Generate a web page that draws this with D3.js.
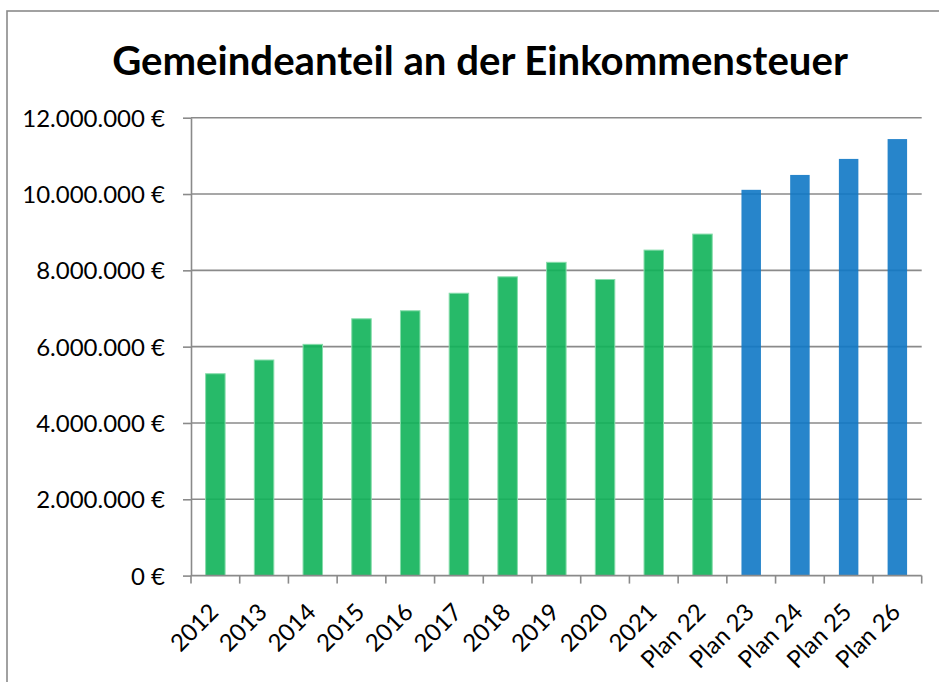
<!DOCTYPE html>
<html lang="de">
<head>
    <meta charset="UTF-8">
    <title>Gemeindeanteil an der Einkommensteuer</title>
    <script src="https://d3js.org/d3.v7.min.js"></script>
    <style>
        body { margin: 0; background: #fff; }
        svg { display: block; font-family: Lato, "Open Sans", sans-serif; }
        .grid line { stroke: #8a8a8a; stroke-width: 1.6px; }
        .axis path, .axis line { stroke: #8a8a8a; stroke-width: 1.6px; }
        .axis text { fill: #000; font-size: 24px; font-family: Lato, "Open Sans", sans-serif; }
    </style>
</head>
<body>
<svg width="939" height="682"></svg>
<script>
    const categories = ["2012", "2013", "2014", "2015", "2016", "2017", "2018", "2019", "2020", "2021",
        "Plan 22", "Plan 23", "Plan 24", "Plan 25", "Plan 26"];
    const values = [5290000, 5650000, 6060000, 6730000, 6940000, 7400000, 7830000, 8210000, 7760000, 8530000,
        8950000, 10110000, 10500000, 10920000, 11440000];
    const yTicks = [0, 2000000, 4000000, 6000000, 8000000, 10000000, 12000000];
    const planFrom = "Plan 23";

    const svg = d3.select("svg");
    const plotLeft = 191, plotRight = 921.7, plotTop = 117.7, plotBottom = 575.6;

    const de = d3.formatLocale({decimal: ",", thousands: ".", grouping: [3], currency: ["", " €"]});
    const fmt = de.format("$,.0f");

    // chart frame (right and bottom edges are outside the picture)
    svg.append("rect")
        .attr("x", 7).attr("y", 11)
        .attr("width", 960).attr("height", 700)
        .attr("fill", "none").attr("stroke", "#8a8a8a").attr("stroke-width", 1.6);

    const title = svg.append("text")
        .attr("x", 480).attr("y", 75)
        .attr("text-anchor", "middle")
        .style("font-weight", "bold")
        .style("font-size", "36px")
        .text("Gemeindeanteil an der Einkommensteuer");
    // scale title to the width used in the original
    const tw = title.node().getComputedTextLength();
    title.style("font-size", (36 * 736 / tw) + "px");

    const x = d3.scaleBand().domain(categories).range([plotLeft, plotRight]).paddingInner(0.6).paddingOuter(0.3);
    const y = d3.scaleLinear().domain([0, 12000000]).range([plotBottom, plotTop]);

    svg.append("g").attr("class", "grid")
        .selectAll("line").data(yTicks.slice(1)).join("line")
        .attr("x1", plotLeft).attr("x2", plotRight)
        .attr("y1", d => y(d)).attr("y2", d => y(d));

    // bars are slightly see-through, so the gridlines show as darker stripes
    const planIdx = categories.indexOf(planFrom);
    svg.append("g")
        .selectAll("rect").data(categories).join("rect")
        .attr("x", d => x(d))
        .attr("width", x.bandwidth())
        .attr("y", (d, i) => y(values[i]))
        .attr("height", (d, i) => y(0) - y(values[i]))
        .attr("fill", (d, i) => i >= planIdx ? "#1078c5" : "#10b359")
        .attr("fill-opacity", 0.9)
        .attr("stroke", (d, i) => i >= planIdx ? "none" : "#86dcaa")
        .attr("stroke-width", 1);

    const yAxis = svg.append("g").attr("class", "axis")
        .attr("transform", `translate(${plotLeft},0)`)
        .call(d3.axisLeft(y).tickValues(yTicks).tickFormat(fmt).tickSize(8).tickSizeOuter(0).tickPadding(18));
    yAxis.selectAll("text").attr("dy", "0.35em");

    // x axis: baseline with ticks on the category boundaries
    const step = x.step();
    const xg = svg.append("g").attr("class", "axis");
    xg.append("line")
        .attr("x1", plotLeft).attr("x2", plotRight)
        .attr("y1", plotBottom).attr("y2", plotBottom);
    xg.selectAll("line.tick").data(d3.range(categories.length + 1)).join("line")
        .attr("class", "tick")
        .attr("x1", i => plotLeft + i * step).attr("x2", i => plotLeft + i * step)
        .attr("y1", plotBottom).attr("y2", plotBottom + 8);
    xg.selectAll("text").data(categories).join("text")
        .attr("text-anchor", "end")
        .attr("transform", d => `translate(${x(d) + x.bandwidth() / 2 + 4.5},${plotBottom + 38}) rotate(-45)`)
        .text(d => d);
</script>
</body>
</html>
